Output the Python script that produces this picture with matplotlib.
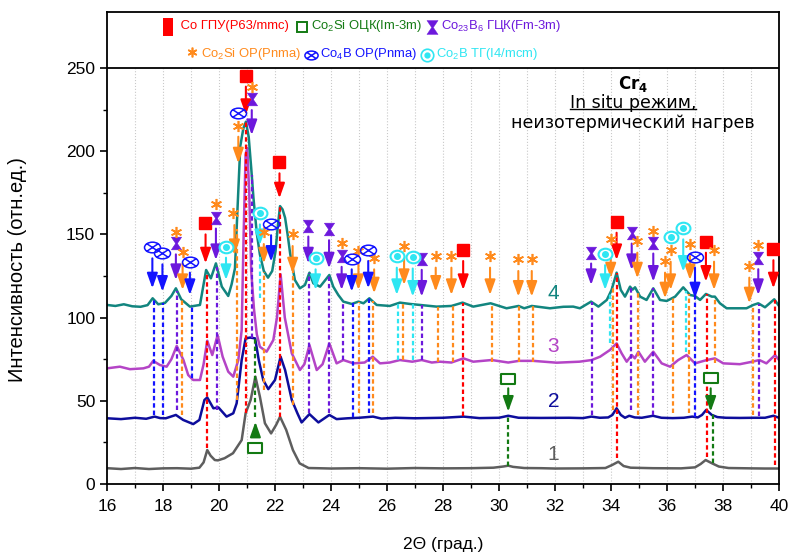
import numpy as np
import matplotlib
matplotlib.use('Agg')
import matplotlib.pyplot as plt
from matplotlib.path import Path
from matplotlib.offsetbox import TextArea, DrawingArea, HPacker, VPacker, AnchoredOffsetbox
from matplotlib.lines import Line2D
from matplotlib.patches import Rectangle
from matplotlib.ticker import FixedLocator, MultipleLocator

plt.rcParams['font.family'] = ['Liberation Sans', 'DejaVu Sans']
plt.rcParams['mathtext.default'] = 'regular'

# ---------------- data ----------------
# curve 1 (gray)
c1_x = [16, 16.5, 17, 17.5, 18, 18.5, 19, 19.3, 19.45, 19.58, 19.7, 19.85, 19.96, 20.2, 20.5, 20.81, 20.95,
        21.13, 21.3, 21.46, 21.64, 21.86, 22.04, 22.18, 22.4, 22.64, 22.88, 23.2, 23.5, 24, 25, 26, 27, 28, 29,
        29.8, 30.15, 30.33, 30.5, 30.9, 31.5, 32, 33, 33.8, 34.05, 34.26, 34.45, 34.7, 35.5, 36.5, 37.0, 37.2,
        37.38, 37.6, 37.85, 38.2, 39, 39.5, 40]
c1_y = [9.5, 9.0, 9.6, 9.0, 9.4, 9.5, 9.2, 9.8, 13.0, 20.4, 17.0, 14.4, 14.2, 15.5, 18.5, 26.4, 42.5,
        50.5, 64.5, 52.5, 36.5, 30.4, 35.5, 40.4, 32.5, 20.4, 12.4, 9.6, 9.5, 9.3, 9.5, 9.2, 9.6, 9.4, 9.5,
        9.8, 10.5, 11.0, 10.3, 9.6, 9.5, 9.3, 9.4, 9.6, 11.5, 13.4, 10.8, 9.8, 9.5, 9.4, 10.0, 12.0,
        14.4, 12.5, 10.5, 9.6, 9.4, 9.3, 9.3]

# curve 2 (navy)
c2_x = [16, 16.5, 17, 17.4, 17.7, 17.9, 18.1, 18.46, 18.72, 19.08, 19.3, 19.48, 19.58, 19.8, 19.98, 20.27,
        20.51, 20.63, 20.81, 20.95, 21.11, 21.29, 21.42, 21.58, 21.76, 22.0, 22.2, 22.36, 22.6, 22.8, 22.95,
        23.23, 23.55, 23.94, 24.2, 24.6, 25.0, 25.5, 25.8, 26.3, 27, 28, 28.73, 29.3, 30.0, 30.33, 30.7, 31.5,
        32.5, 33.0, 33.3, 33.6, 33.9, 34.05, 34.2, 34.35, 34.5, 34.65, 34.85, 35.1, 35.5, 35.8, 36.2, 36.6,
        36.9, 37.1, 37.25, 37.4, 37.6, 37.8, 38.1, 38.6, 39.1, 39.5, 39.8, 40]
c2_y = [39.5, 39.0, 39.8, 39.2, 40.5, 39.6, 39.5, 41.5, 38.5, 36.0, 38.5, 50.5, 52.0, 45.5, 46.0, 40.5,
        42.5, 48.5, 74.5, 87.5, 88.0, 87.5, 74.5, 62.5, 57.0, 62.5, 76.5, 68.5, 50.5, 42.5, 37.0,
        42.0, 37.0, 41.5, 39.0, 39.5, 39.8, 40.5, 39.3, 39.8, 39.5, 39.8, 40.5, 39.6, 39.8, 41.0, 39.8, 39.7,
        39.8, 39.6, 40.5, 39.8, 40.0, 41.5, 45.5, 41.5, 39.8, 41.0, 40.0, 39.8, 41.0, 39.8, 39.6, 39.8,
        40.5, 40.0, 41.5, 44.5, 41.5, 40.2, 39.8, 39.7, 39.8, 39.8, 41.0, 39.8]

# curve 3 (magenta)
c3_x = [16, 16.46, 16.82, 17.3, 17.5, 17.65, 17.89, 18.13, 18.3, 18.49, 18.73, 18.9, 19.08, 19.32, 19.45,
        19.58, 19.76, 19.95, 20.13, 20.33, 20.51, 20.69, 20.81, 20.88, 20.95, 21.01, 21.08, 21.15, 21.25,
        21.35, 21.46, 21.7, 21.94, 22.07, 22.2, 22.35, 22.6, 22.89, 23.05, 23.23, 23.49, 23.7, 23.94, 24.2,
        24.44, 24.8, 25.2, 25.49, 25.75, 26.1, 26.46, 26.9, 27.24, 27.6, 27.89, 28.3, 28.73, 29.08, 29.74,
        30.33, 30.71, 31.22, 32.06, 32.87, 33.31, 33.61, 33.96, 34.2, 34.38, 34.56, 34.74, 34.85, 34.98,
        35.21, 35.51, 35.81, 36.11, 36.4, 36.7, 37.0, 37.42, 37.71, 38.01, 38.6, 39.05, 39.3, 39.55, 39.86, 40]
c3_y = [69.5, 70.5, 69.0, 69.5, 70.5, 74.0, 71.5, 70.5, 75.0, 83.0, 74.5, 65.5, 62.5, 62.5, 72.0,
        86.1, 77.5, 89.5, 76.5, 67.5, 64.5, 74.5, 92.5, 150.0, 198.0, 202.0, 175.0, 128.0, 105.0,
        90.0, 82.5, 79.5, 86.5, 100.0, 126.0, 100.0, 78.5, 68.5, 72.0, 83.5, 68.5, 72.0, 84.5, 72.5,
        74.5, 72.5, 73.0, 76.5, 72.5, 73.0, 74.5, 73.5, 74.5, 73.0, 73.5, 73.0, 75.5, 73.5, 74.5,
        73.0, 74.0, 74.0, 72.9, 73.5, 74.5, 76.5, 80.5, 84.5, 78.5, 73.5, 77.5, 75.5, 79.5,
        73.5, 79.5, 72.5, 70.5, 74.5, 77.5, 72.5, 74.5, 75.5, 72.5, 72.0, 73.5, 74.5, 72.5, 77.5, 74.5]

# curve 4 (teal)
c4_x = [16, 16.3, 16.6, 16.9, 17.2, 17.45, 17.63, 17.83, 18.07, 18.3, 18.46, 18.65, 18.96, 19.32, 19.45,
        19.54, 19.71, 19.89, 20.1, 20.33, 20.45, 20.57, 20.66, 20.76, 20.87, 20.96, 21.06, 21.15, 21.23,
        21.35, 21.46, 21.6, 21.75, 21.9, 22.02, 22.1, 22.18, 22.27, 22.36, 22.45, 22.54, 22.71, 22.89, 23.07,
        23.23, 23.37, 23.61, 23.94, 24.08, 24.26, 24.44, 24.74, 24.98, 25.16, 25.37, 25.63, 26.1, 26.46,
        26.82, 27.18, 27.77, 28.3, 28.7, 29.08, 29.7, 30.27, 30.7, 30.9, 31.17, 31.82, 32.3, 32.65, 32.89,
        33.29, 33.55, 33.85, 34.02, 34.2, 34.35, 34.5, 34.68, 34.77, 34.86, 35.04, 35.27, 35.51, 35.75,
        35.99, 36.29, 36.58, 36.82, 37.0, 37.18, 37.39, 37.6, 37.71, 37.89, 38.13, 38.84, 39.08, 39.26,
        39.5, 39.83, 40]
c4_y = [107.6, 107.0, 108.0, 106.8, 106.5, 107.5, 111.6, 108.0, 108.8, 113.0, 117.6, 111.0, 106.6, 107.6, 120.0,
        128.6, 123.6, 132.6, 118.6, 113.0, 120.0, 129.6, 165.0, 203.0, 213.7, 217.7, 208.7, 190.0, 172.0,
        150.6, 138.0, 128.0, 124.0, 128.0, 140.0, 155.0, 167.0, 165.0, 160.0, 150.0, 138.6, 122.6, 117.6, 119.6,
        127.0, 120.6, 118.6, 125.6, 118.6, 113.6, 109.6, 108.2, 109.6, 108.6, 111.6, 107.6, 107.0, 109.0,
        108.2, 107.6, 106.6, 107.0, 109.0, 106.6, 108.6, 105.6, 107.0, 105.6, 107.0, 105.6, 106.5, 106.6, 105.6,
        109.6, 106.6, 110.6, 116.6, 127.0, 116.6, 112.6, 118.6, 116.8, 118.2, 112.6, 110.6, 117.6, 110.6,
        110.0, 112.6, 118.2, 113.6, 113.0, 110.6, 114.2, 112.6, 112.6, 108.6, 105.6, 105.6, 107.6, 108.6,
        106.2, 111.0, 107.0]

curve_labels = ['1', '2', '3', '4']
label_x = [31.95, 31.95, 31.93, 31.93]
label_y = [18.0, 49.5, 82.5, 114.6]

# Co HCP (red squares)
hcp_mark_x = [19.50, 20.96, 22.16, 28.70, 34.20, 37.39, 39.80]
hcp_mark_y = [156.7, 245.2, 193.7, 140.6, 157.6, 145.6, 141.0]
hcp_arrow_x = [19.52, 20.96, 22.16, 28.72, 34.20, 37.39, 39.80]
hcp_arrow_from = [150.0, 238.8, 186.7, 134.0, 151.0, 139.0, 134.5]
hcp_arrow_to = [132.6, 221.8, 171.7, 116.6, 134.6, 121.6, 117.6]
hcp_line_x = [19.58, 20.95, 22.18, 28.73, 34.20, 37.42, 39.86]
hcp_line_bot = [21.6, 42.5, 40.5, 40.6, 15.6, 16.4, 11.4]

# Co2Si BCC (green open squares)
bcc_mark_x = [21.30, 30.33, 37.56]
bcc_mark_y = [21.4, 63.1, 63.5]
bcc_arrow_x = [21.30, 30.33, 37.56]
bcc_arrow_from = [30.6, 57.5, 57.5]
bcc_arrow_to = [37.4, 43.5, 43.5]
bcc_line_x = [21.30, 30.33, 37.63]
bcc_line_top = [87.0, 41.0, 42.6]
bcc_line_bot = [40.0, 11.0, 12.6]

# Co23B6 FCC (purple hourglasses)
b6_mark_x = [18.46, 19.89, 21.17, 23.19, 23.93, 24.38, 27.24, 33.29, 34.74, 35.51, 39.26]
b6_mark_y = [144.6, 160.0, 231.2, 155.2, 153.0, 137.0, 135.2, 139.0, 151.0, 145.0, 135.6]
b6_arrow_x = [18.46, 19.89, 21.17, 23.19, 23.93, 24.38, 27.24, 33.29, 34.74, 35.51, 39.26]
b6_arrow_from = [138.0, 153.5, 224.7, 148.7, 146.5, 130.5, 128.7, 132.5, 144.5, 138.5, 129.1]
b6_arrow_to = [122.6, 134.6, 209.7, 132.6, 129.6, 116.6, 112.6, 119.6, 128.6, 121.6, 113.6]
b6_line_x = [18.51, 19.92, 21.17, 23.23, 23.94, 24.44, 27.24, 33.31, 34.71, 35.51, 39.30]
b6_line_bot = [44.5, 44.5, 87.5, 42.5, 42.5, 74.5, 74.5, 41.5, 44.5, 41.5, 41.0]

# Co2Si OR (orange asterisks)
or_mark_x = [18.46, 18.70, 19.89, 20.51, 20.69, 21.17, 21.60, 22.63, 24.38, 24.98, 25.54, 26.61, 27.74,
             28.30, 29.68, 30.69, 31.17, 33.99, 34.94, 35.49, 35.93, 36.13, 36.82, 37.68, 38.94, 39.24]
or_mark_y = [151.6, 139.6, 168.0, 162.7, 215.1, 238.8, 151.2, 150.0, 145.0, 140.0, 136.0, 143.0, 137.0,
             137.0, 137.0, 135.0, 135.0, 147.0, 146.0, 152.2, 134.0, 140.6, 144.0, 140.6, 131.0, 143.6]
or_arrow_x = [18.70, 20.55, 20.69, 21.60, 22.63, 24.98, 25.54, 26.61, 27.74, 28.30, 29.68, 30.69, 31.17,
              33.99, 34.94, 35.93, 36.13, 36.82, 37.68, 38.94]
or_arrow_from = [132.6, 155.6, 208.7, 144.2, 143.0, 133.0, 129.0, 136.0, 130.0, 130.0, 130.0, 128.0, 128.0,
                 140.0, 139.0, 127.0, 133.6, 137.0, 133.6, 124.0]
or_arrow_to = [116.6, 137.6, 192.7, 132.6, 126.6, 116.6, 114.6, 119.6, 115.6, 113.6, 113.6, 112.6, 112.6,
               123.6, 123.6, 111.6, 116.6, 122.6, 116.6, 108.6]
or_line_x = [18.69, 20.63, 21.62, 22.63, 25.01, 25.49, 26.56, 27.83, 28.35, 29.74, 30.71, 31.22, 34.06,
             34.95, 36.20, 36.80, 37.71, 39.06]
or_line_bot = [41.5, 50.5, 56.5, 47.5, 42.6, 42.6, 74.5, 73.5, 73.5, 73.5, 73.5, 73.5, 44.5,
               41.5, 42.6, 42.6, 73.0, 41.5]

# Co4B OR (blue circled crosses)
co4b_mark_x = [17.60, 17.98, 18.96, 20.69, 21.86, 24.74, 25.33, 37.00]
co4b_mark_y = [142.6, 139.0, 133.6, 223.1, 156.0, 135.2, 140.6, 136.6]
co4b_arrow_x = [17.62, 17.98, 18.96, 21.86, 24.74, 25.33, 37.00]
co4b_arrow_from = [135.6, 132.0, 127.0, 149.5, 129.0, 134.0, 130.0]
co4b_arrow_to = [117.6, 115.6, 113.6, 133.6, 115.6, 117.6, 111.6]
co4b_line_x = [17.68, 18.01, 19.05, 24.80, 25.37, 37.00]
co4b_line_bot = [41.5, 41.5, 63.7, 40.5, 42.6, 40.5]

# Co2B TG (cyan circled dots)
co2b_mark_x = [20.25, 21.46, 23.45, 26.35, 26.92, 33.79, 36.13, 36.58]
co2b_mark_y = [142.6, 162.7, 135.6, 137.0, 136.2, 138.2, 148.6, 153.6]
co2b_arrow_x = [20.25, 21.46, 23.45, 26.35, 26.92, 33.79, 36.58]
co2b_arrow_from = [136.0, 156.0, 129.0, 130.0, 129.5, 131.5, 147.0]
co2b_arrow_to = [122.6, 143.6, 116.6, 113.6, 112.6, 116.6, 127.6]
co2b_line_x = [21.46, 26.40, 26.92, 33.96, 36.68]
co2b_line_bot = [112.0, 74.5, 74.5, 85.0, 79.5]

legend_line1 = [' Co ГПУ(P63/mmc) ', 'Co$_2$Si ОЦК(Im-3m) ', 'Co$_{23}$B$_6$ ГЦК(Fm-3m)']
legend_line2 = ['Co$_2$Si ОР(Pnma) ', 'Co$_4$B ОР(Pnma) ', 'Co$_2$B ТГ(I4/mcm)']

# ---------------- styling ----------------
C_GRAY, C_NAVY, C_MAG, C_TEAL = '#5e5e5e', '#0d0d9c', '#b444c6', '#12857f'
C_RED, C_GREEN, C_PURP, C_OR, C_BLUE, C_CYAN = '#ff0000', '#137a13', '#6c18dc', '#ff8a1c', '#1414ff', '#2fe6f2'

hourglass = Path([(-0.8, 1), (0.8, 1), (0.12, 0), (0.8, -1), (-0.8, -1), (-0.12, 0), (-0.8, 1)],
                 [1, 2, 2, 2, 2, 2, 79])
circ = Path.unit_circle()
ell = Path(circ.vertices * np.array([1.2, 1.0]), circ.codes)
ell_x = Path(circ.vertices * np.array([1.5, 1.0]), circ.codes)
cross = Path([(-1.06, -0.707), (1.06, 0.707), (-1.06, 0.707), (1.06, -0.707)], [1, 2, 1, 2])
otimes = Path.make_compound_path(ell_x, cross)
wide_rect = Path([(-1.3, -1), (1.3, -1), (1.3, 1), (-1.3, 1), (-1.3, -1)], [1, 2, 2, 2, 79])

fig = plt.figure(figsize=(7.96, 5.56), dpi=100)
ax = fig.add_axes([107 / 796, 1 - 484 / 556, 672 / 796, 472 / 556])
ax.set_xlim(16, 40)
ax.set_ylim(0, 283.65)

for gx in range(17, 40):
    ax.plot([gx, gx], [0, 250], color='#c9c9c9', ls=':', lw=0.8, zorder=0)

for xs, ys, c in [(c1_x, c1_y, C_GRAY), (c2_x, c2_y, C_NAVY), (c3_x, c3_y, C_MAG), (c4_x, c4_y, C_TEAL)]:
    ax.plot(xs, ys, color=c, lw=1.8, zorder=2, solid_joinstyle='round')

for t, lx, ly, c in zip(curve_labels, label_x, label_y, [C_GRAY, C_NAVY, C_MAG, C_TEAL]):
    ax.text(lx, ly, t, color=c, fontsize=15, ha='center', va='center', zorder=5)

dash = (0, (2.0, 1.3))


def dashed(xs, bots, c, tops=None):
    for i, (x, b) in enumerate(zip(xs, bots)):
        top = tops[i] if tops is not None else float(np.interp(x, c4_x, c4_y))
        ax.plot([x, x], [b, top], color=c, lw=1.6, ls=dash, zorder=3)


def arrows(xs, y0s, y1s, c):
    for x, a, b in zip(xs, y0s, y1s):
        ax.annotate('', xy=(x, b), xytext=(x, a),
                    arrowprops=dict(arrowstyle='-|>,head_length=0.9,head_width=0.32', color=c, lw=1.5,
                                    shrinkA=0, shrinkB=0, mutation_scale=10), zorder=6)


dashed(hcp_line_x, hcp_line_bot, C_RED)
dashed(bcc_line_x, bcc_line_bot, C_GREEN, bcc_line_top)
dashed(b6_line_x, b6_line_bot, C_PURP)
dashed(or_line_x, or_line_bot, C_OR)
dashed(co4b_line_x, co4b_line_bot, C_BLUE)
dashed(co2b_line_x, co2b_line_bot, C_CYAN)

arrows(hcp_arrow_x, hcp_arrow_from, hcp_arrow_to, C_RED)
arrows(bcc_arrow_x, bcc_arrow_from, bcc_arrow_to, C_GREEN)
arrows(b6_arrow_x, b6_arrow_from, b6_arrow_to, C_PURP)
arrows(or_arrow_x, or_arrow_from, or_arrow_to, C_OR)
arrows(co4b_arrow_x, co4b_arrow_from, co4b_arrow_to, C_BLUE)
arrows(co2b_arrow_x, co2b_arrow_from, co2b_arrow_to, C_CYAN)

ax.plot(hcp_mark_x, hcp_mark_y, ls='none', marker='s', ms=8, color=C_RED, zorder=7)
ax.plot(bcc_mark_x, bcc_mark_y, ls='none', marker=wide_rect, ms=9.5, mfc='white', mec=C_GREEN, mew=1.5, zorder=7)
ax.plot(b6_mark_x, b6_mark_y, ls='none', marker=hourglass, ms=9, color=C_PURP, mew=0.5, zorder=7)
ax.plot(or_mark_x, or_mark_y, ls='none', marker=(6, 2, 0), ms=8, color=C_OR, mew=1.2, zorder=7)
ax.plot(co4b_mark_x, co4b_mark_y, ls='none', marker=otimes, ms=11.5, mfc='none', mec=C_BLUE, mew=1.1, zorder=7)
ax.plot(co2b_mark_x, co2b_mark_y, ls='none', marker=ell, ms=10, mfc='white', mec=C_CYAN, mew=1.5, zorder=7)
ax.plot(co2b_mark_x, co2b_mark_y, ls='none', marker='o', ms=4, color=C_CYAN, zorder=8)

# frame, separator line of the legend box
ax.axhline(250, color='black', lw=1.3, zorder=9)
for s in ax.spines.values():
    s.set_linewidth(1.3)

ax.set_yticks([0, 50, 100, 150, 200, 250])
ax.yaxis.set_minor_locator(FixedLocator([25, 75, 125, 175, 225]))
ax.xaxis.set_major_locator(MultipleLocator(2))
ax.xaxis.set_minor_locator(MultipleLocator(1))
ax.tick_params(which='major', direction='out', length=5, width=1.2, labelsize=12.5)
ax.tick_params(axis='x', which='major', pad=6)
ax.tick_params(which='minor', direction='out', length=3, width=1.0)

ax.set_xlabel('2Θ (град.)', fontsize=12.5)
ax.set_ylabel('Интенсивность (отн.ед.)', fontsize=14.5)
ax.xaxis.set_label_coords(0.5, -0.113)
ax.yaxis.set_label_coords(-0.119, 0.455)

# annotation text block
ax.text(34.79, 240.6, 'Cr$_4$', ha='center', va='center', fontsize=12, fontweight='bold', zorder=9,
        family='DejaVu Sans')
t_mid = ax.text(34.79, 228.8, 'In situ режим,', ha='center', va='center', fontsize=12.5, zorder=9,
                family='DejaVu Sans')
ax.text(34.79, 217.0, 'неизотермический нагрев', ha='center', va='center', fontsize=12.5, zorder=9,
        family='DejaVu Sans')


# legend
def mbox(kind, color):
    da = DrawingArea(11, 12, 0, 0)
    if kind == 'rect':
        da.add_artist(Rectangle((1.5, -1), 7.5, 13, fc=color, ec='none'))
    elif kind == 'open':
        da.add_artist(Line2D([5.5], [5.5], marker='s', ms=7.5, mfc='none', mec=color, mew=1.4))
    elif kind == 'hour':
        da.add_artist(Line2D([5.5], [5.5], marker=hourglass, ms=10, color=color, mew=0.3))
    elif kind == 'star':
        da.add_artist(Line2D([5.5], [7], marker=(6, 2, 0), ms=7, color=color, mew=1.2))
    elif kind == 'otimes':
        da.add_artist(Line2D([5.5], [5.5], marker=otimes, ms=9.5, mfc='none', mec=color, mew=1.1))
    elif kind == 'odot':
        da.add_artist(Line2D([5.5], [5.5], marker='o', ms=9, mfc='white', mec=color, mew=1.2))
        da.add_artist(Line2D([5.5], [5.5], marker='o', ms=3.5, color=color))
    return da


def line_box(kinds, colors, texts):
    children = []
    for k, c, t in zip(kinds, colors, texts):
        children.append(mbox(k, c))
        children.append(TextArea(t, textprops=dict(color=c, fontsize=9.4)))
    return HPacker(children=children, align='center', pad=0, sep=1)


l1 = line_box(['rect', 'open', 'hour'], [C_RED, C_GREEN, C_PURP], legend_line1)
l2 = line_box(['star', 'otimes', 'odot'], [C_OR, C_BLUE, C_CYAN], legend_line2)
vp = VPacker(children=[l1, l2], align='center', pad=0, sep=8)
ab = AnchoredOffsetbox(loc='center', child=vp, bbox_to_anchor=(0.378, 0.9407), bbox_transform=ax.transAxes,
                       frameon=False, pad=0, borderpad=0)
ax.add_artist(ab)

# underline under "In situ режим,"
fig.canvas.draw()
bb = t_mid.get_window_extent(renderer=fig.canvas.get_renderer())
inv = ax.transData.inverted()
(x0, y0), (x1, _) = inv.transform([(bb.x0, bb.y0 + 3), (bb.x1, bb.y0 + 3)])
ax.plot([x0, x1], [y0, y0], color='black', lw=1.0, zorder=9)

fig.savefig('out.png', dpi=100)
